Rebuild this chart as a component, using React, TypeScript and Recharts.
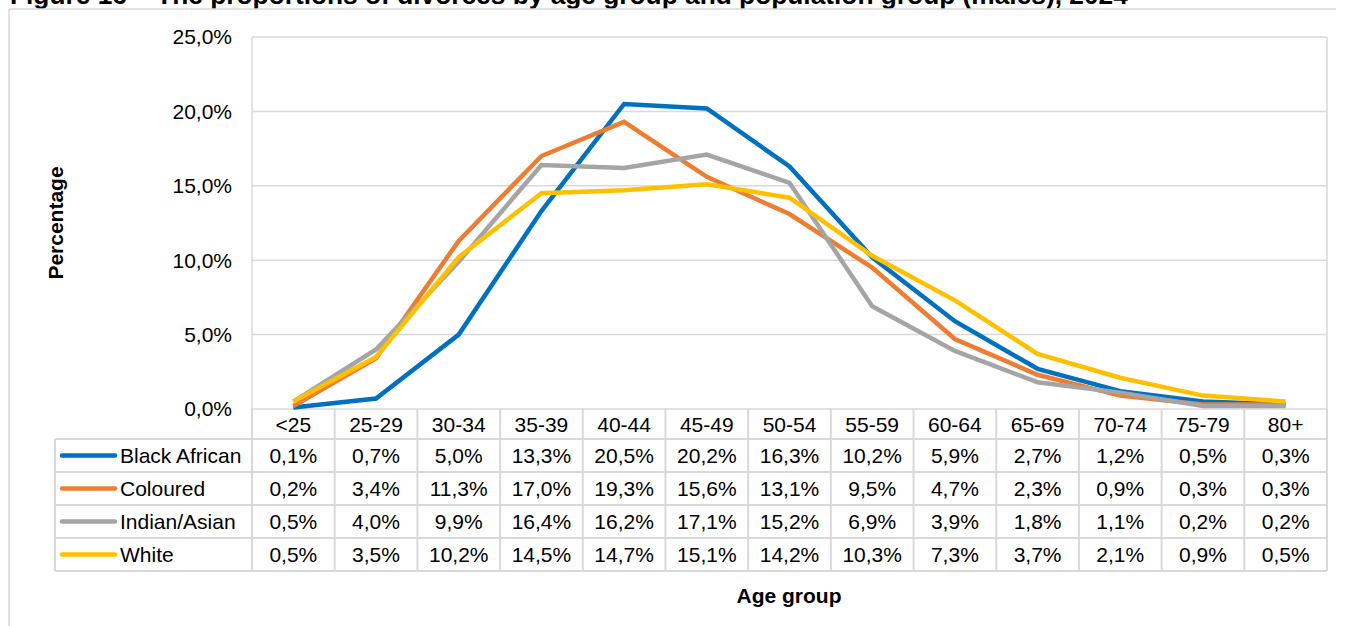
import { CartesianGrid, Line, LineChart, XAxis, YAxis } from "recharts";

const ageGroups = ["<25", "25-29", "30-34", "35-39", "40-44", "45-49", "50-54", "55-59", "60-64", "65-69", "70-74", "75-79", "80+"];

const blackAfrican = [0.1, 0.7, 5.0, 13.3, 20.5, 20.2, 16.3, 10.2, 5.9, 2.7, 1.2, 0.5, 0.3];
const coloured = [0.2, 3.4, 11.3, 17.0, 19.3, 15.6, 13.1, 9.5, 4.7, 2.3, 0.9, 0.3, 0.3];
const indianAsian = [0.5, 4.0, 9.9, 16.4, 16.2, 17.1, 15.2, 6.9, 3.9, 1.8, 1.1, 0.2, 0.2];
const white = [0.5, 3.5, 10.2, 14.5, 14.7, 15.1, 14.2, 10.3, 7.3, 3.7, 2.1, 0.9, 0.5];

const yTicks = [0, 5, 10, 15, 20, 25];

const series = [
  { key: "blackAfrican", label: "Black African", color: "#0070C0", values: blackAfrican },
  { key: "coloured", label: "Coloured", color: "#ED7D31", values: coloured },
  { key: "indianAsian", label: "Indian/Asian", color: "#A5A5A5", values: indianAsian },
  { key: "white", label: "White", color: "#FFC000", values: white },
];

const data = ageGroups.map((age, i) => {
  const row: Record<string, number | string> = { age };
  series.forEach((s) => (row[s.key] = s.values[i]));
  return row;
});

const FONT = "'Liberation Sans', Arial, sans-serif";
const GRID = "#D9D9D9";
const W = 1345;
const H = 626;
const PLOT_TOP = 37;
const TABLE_TOP = 409;
const HEADER_H = 30;
const ROW_H = 33;
const LEGEND_LEFT = 55;
const AXIS_W = 252;

const pct = (v: number) => v.toFixed(1).replace(".", ",") + "%";

// one table column per category, positioned by the x axis
function TableColumn(props: any) {
  const { x, y, payload, index, width } = props;
  const colW = (width ?? 1075) / ageGroups.length;
  const left = x - colW / 2;
  const right = x + colW / 2;
  const bottom = y + HEADER_H + ROW_H * series.length;
  return (
    <g fontFamily={FONT} fontSize={21}>
      <line x1={left} x2={left} y1={y} y2={bottom} stroke={GRID} strokeWidth={2} />
      {index === ageGroups.length - 1 && (
        <line x1={right} x2={right} y1={y} y2={bottom} stroke={GRID} strokeWidth={2} />
      )}
      <text x={x} y={y + HEADER_H / 2 + 7.5} textAnchor="middle" fill="#000">
        {payload.value}
      </text>
      {series.map((s, r) => {
        const top = y + HEADER_H + r * ROW_H;
        return (
          <g key={s.key}>
            <line x1={left} x2={right} y1={top} y2={top} stroke={GRID} strokeWidth={2} />
            <text x={x} y={top + ROW_H / 2 + 7.5} textAnchor="middle" fill="#000">
              {pct(s.values[index])}
            </text>
          </g>
        );
      })}
      <line x1={left} x2={right} y1={bottom} y2={bottom} stroke={GRID} strokeWidth={2} />
    </g>
  );
}

export default function App() {
  const tableBottom = TABLE_TOP + HEADER_H + ROW_H * series.length;
  return (
    <div style={{ position: "absolute", left: 0, top: 0, width: W, height: H, overflow: "hidden", background: "#fff" }}>
      <svg width={W} height={H} style={{ position: "absolute", left: 0, top: 0 }} fontFamily={FONT}>
        {/* title is cropped at the top edge, as in the source figure */}
        <text x={10} y={4} fontSize={26.3} fontWeight="bold" fill="#000">
          Figure 16 – The proportions of divorces by age group and population group (males), 2024
        </text>
        <line x1={9} x2={1336} y1={9} y2={9} stroke={GRID} strokeWidth={1.5} />
        <line x1={9} x2={9} y1={9} y2={H} stroke={GRID} strokeWidth={1.5} />
        <text
          transform="translate(63 223) rotate(-90)"
          textAnchor="middle"
          fontSize={21}
          fontWeight="bold"
          fill="#000"
        >
          Percentage
        </text>
        <text x={789} y={603} textAnchor="middle" fontSize={21} fontWeight="bold" fill="#000">
          Age group
        </text>
        {/* legend column of the data table */}
        <line x1={LEGEND_LEFT} x2={LEGEND_LEFT} y1={TABLE_TOP + HEADER_H} y2={tableBottom} stroke={GRID} strokeWidth={2} />
        {series.map((s, r) => {
          const top = TABLE_TOP + HEADER_H + r * ROW_H;
          const mid = top + ROW_H / 2;
          return (
            <g key={s.key}>
              <line x1={LEGEND_LEFT} x2={AXIS_W} y1={top} y2={top} stroke={GRID} strokeWidth={2} />
              <line x1={62} x2={115} y1={mid} y2={mid} stroke={s.color} strokeWidth={4.5} strokeLinecap="round" />
              <text x={120} y={mid + 7.5} fontSize={21} fill="#000">
                {s.label}
              </text>
            </g>
          );
        })}
        <line x1={LEGEND_LEFT} x2={AXIS_W} y1={tableBottom} y2={tableBottom} stroke={GRID} strokeWidth={2} />
      </svg>
      <div style={{ position: "absolute", left: 0, top: 0 }}>
        <LineChart width={W} height={H} data={data} margin={{ top: PLOT_TOP, right: 18, bottom: 0, left: 0 }}>
          <CartesianGrid
            stroke={GRID}
            strokeWidth={1.5}
            horizontalValues={yTicks}
            verticalCoordinatesGenerator={({ offset }: any) => [offset.left, offset.left + offset.width]}
          />
          <XAxis
            dataKey="age"
            scale="band"
            interval={0}
            height={H - TABLE_TOP}
            tickLine={false}
            axisLine={false}
            tickSize={0}
            tickMargin={0}
            tick={(p: any) => <TableColumn {...p} />}
          />
          <YAxis
            width={AXIS_W}
            domain={[0, 25]}
            ticks={yTicks}
            tickFormatter={pct}
            axisLine={false}
            tickLine={false}
            tickSize={6}
            tickMargin={14}
            tick={{ fill: "#000", fontSize: 21, fontFamily: FONT }}
          />
          {series.map((s) => (
            <Line
              key={s.key}
              type="linear"
              dataKey={s.key}
              stroke={s.color}
              strokeWidth={4.5}
              dot={false}
              isAnimationActive={false}
            />
          ))}
        </LineChart>
      </div>
    </div>
  );
}
